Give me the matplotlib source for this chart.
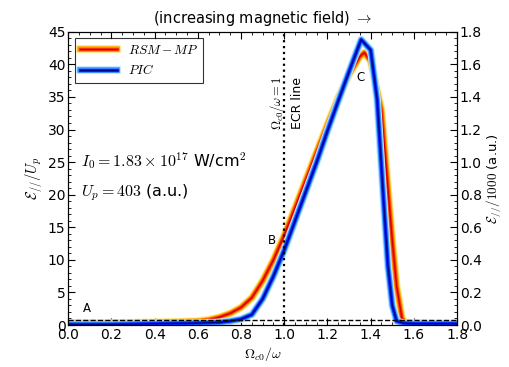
import matplotlib; matplotlib.use("Agg")
import matplotlib.pyplot as plt
import matplotlib.patheffects as pe
from matplotlib.ticker import MultipleLocator

plt.rcParams.update({"font.family": "DejaVu Sans", "font.size": 10, "mathtext.fontset": "cm",
                     "xtick.direction": "in", "ytick.direction": "in"})

# RSM-MP curve
x_rsm = [0.0, 0.1, 0.2, 0.3, 0.4, 0.5, 0.6, 0.65, 0.7, 0.75, 0.8, 0.85, 0.9, 0.95, 1.0, 1.05,
         1.1, 1.15, 1.2, 1.25, 1.3, 1.35, 1.37, 1.4, 1.45, 1.48, 1.5, 1.52, 1.545, 1.56, 1.6, 1.7, 1.8]
y_rsm = [0.3, 0.3, 0.3, 0.35, 0.4, 0.5, 0.6, 0.8, 1.2, 1.8, 2.7, 4.2, 6.8, 10.0, 13.8, 18.0,
         22.3, 26.6, 30.8, 34.9, 38.4, 41.2, 41.8, 40.5, 33.0, 21.0, 13.0, 6.0, 1.0, 0.4, 0.3, 0.2, 0.2]
# PIC curve
x_pic = [0.0, 0.1, 0.2, 0.3, 0.4, 0.5, 0.6, 0.7, 0.75, 0.8, 0.85, 0.9, 0.95, 1.0, 1.05, 1.1,
         1.15, 1.2, 1.25, 1.3, 1.356, 1.40, 1.43, 1.46, 1.48, 1.5, 1.52, 1.55, 1.6, 1.7, 1.8]
y_pic = [0.1, 0.1, 0.1, 0.15, 0.2, 0.25, 0.3, 0.4, 0.6, 0.9, 1.6, 4.0, 7.5, 11.5, 16.0, 20.5,
         25.0, 29.8, 34.4, 38.9, 43.8, 42.2, 34.6, 19.0, 9.0, 3.0, 0.6, 0.3, 0.2, 0.2, 0.2]
UP_LEVEL = 0.8

fig = plt.figure(figsize=(5.09, 3.67), dpi=100)
ax = fig.add_axes([0.134, 0.1144, 0.764, 0.799])

red_fx = [pe.Stroke(linewidth=5.5, foreground="#ffe680"), pe.Stroke(linewidth=4, foreground="#ffa500"),
          pe.Stroke(linewidth=2.5, foreground="#ff4000"), pe.Normal()]
blue_fx = [pe.Stroke(linewidth=5.5, foreground="#bfe3ff"), pe.Stroke(linewidth=4, foreground="#3aa0ff"),
           pe.Stroke(linewidth=2.5, foreground="#0030ff"), pe.Normal()]
ax.plot(x_rsm, y_rsm, color="#d00000", lw=1.0, label=r"$RSM-MP$", path_effects=red_fx)
ax.plot(x_pic, y_pic, color="#000090", lw=1.0, label=r"$PIC$", path_effects=blue_fx)

ax.axvline(1.0, color="black", ls=":", lw=1.6)
ax.axhline(UP_LEVEL, color="black", ls="--", lw=1.0)

ax.set_xlim(0, 1.8); ax.set_ylim(0, 45)
ax.xaxis.set_major_locator(MultipleLocator(0.2)); ax.xaxis.set_minor_locator(MultipleLocator(0.05))
ax.yaxis.set_major_locator(MultipleLocator(5)); ax.yaxis.set_minor_locator(MultipleLocator(1))
ax.tick_params(which="both", top=True, right=False)
ax.tick_params(which="major", length=5, labelsize=10, pad=2)
ax.tick_params(which="minor", length=2.5)
ax.set_xlabel(r"$\Omega_{c0}/\omega$", fontsize=10, labelpad=2)
ax.set_ylabel(r"$\mathcal{E}_{//}/U_p$", fontsize=10.5, labelpad=2)
ax.set_title(r"(increasing magnetic field) $\rightarrow$", fontsize=10.5, pad=6)

ax2 = ax.twinx()
ax2.set_ylim(0, 1.8)
ax2.yaxis.set_major_locator(MultipleLocator(0.2)); ax2.yaxis.set_minor_locator(MultipleLocator(0.04))
ax2.tick_params(which="major", length=5, labelsize=10, pad=2)
ax2.tick_params(which="minor", length=2.5)
ax2.set_ylabel(r"$\mathcal{E}_{//}/1000$ (a.u.)", fontsize=9.5, labelpad=2)

ax.text(0.07, 2.0, "A", fontsize=8.5)
ax.text(0.925, 12.5, "B", fontsize=8.5)
ax.text(1.335, 37.5, "C", fontsize=8.5)
ax.text(0.965, 34.0, r"$\Omega_{c0}/\omega=1$", rotation=90, ha="center", va="center", fontsize=9)
ax.text(1.06, 34.0, "ECR line", rotation=90, ha="center", va="center", fontsize=9)
ax.text(0.06, 24.3, r"$I_0=1.83\times10^{17}$ W/cm$^2$", fontsize=11.5)
ax.text(0.06, 19.8, r"$U_p=403$ (a.u.)", fontsize=11.5)

leg = ax.legend(loc="upper left", fontsize=9.5, fancybox=False, edgecolor="black",
                handlelength=2.8, borderaxespad=0.5)
leg.get_frame().set_linewidth(0.8)

fig.savefig("out.png", dpi=100)
